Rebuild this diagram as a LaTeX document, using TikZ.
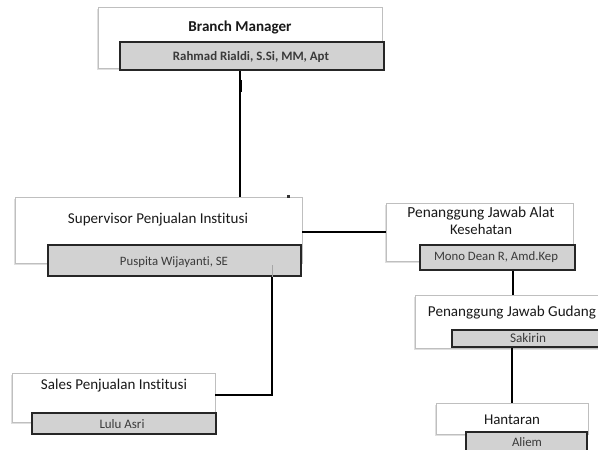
\documentclass[tikz,border=0pt]{standalone}
\usepackage{fontspec}
\setmainfont{Carlito}[Ligatures={NoCommon}]
\usetikzlibrary{shadows}
\definecolor{boxgray}{HTML}{D2D2D2}
\definecolor{txtgray}{HTML}{3A3A3A}
\newcommand{\fw}[2]{\resizebox{#1pt}{!}{#2}}
\tikzset{
  whitebox/.style={draw=black!25, line width=0.9pt, fill=white,
    drop shadow={shadow xshift=-1pt, shadow yshift=-1.5pt, opacity=0.25}},
  graybox/.style={draw=black!85, line width=1.2pt, fill=boxgray},
  ttltext/.style={text=black!90, inner sep=0pt},
  nmtext/.style={text=txtgray, inner sep=0pt},
  conn/.style={draw=black, line width=2pt}
}
\begin{document}
\begin{tikzpicture}[x=1pt,y=-1pt]
\clip (0,0) rectangle (598,450);
\fill[white] (0,0) rectangle (598,450);
% Branch Manager
\path[whitebox] (98,7) rectangle (382,68);
\path[graybox] (120,42) rectangle (384,70);
\node[ttltext] (bmt) at (240,27) {\fw{103}{\bfseries Branch Manager}};
\node[nmtext] (bmn) at (251,57) {\fw{156}{\bfseries Rahmad Rialdi, S.Si, MM, Apt}};
% Supervisor
\path[whitebox] (15,197) rectangle (302,263);
\path[graybox] (48,245) rectangle (301,276);
\node[ttltext] (supt) at (158,220) {\fw{180}{Supervisor Penjualan Institusi}};
\node[nmtext] (supn) at (174,262) {\fw{108}{Puspita Wijayanti, SE}};
% Alat Kesehatan
\path[whitebox] (386,203) rectangle (573,261);
\path[graybox] (420,245) rectangle (575,270);
\node[ttltext] (alt1) at (481,213) {\fw{147}{Penanggung Jawab Alat}};
\node[ttltext] (alt2) at (481,229) {\fw{62}{Kesehatan}};
\node[nmtext] (altn) at (496,257) {\fw{124}{Mono Dean R, Amd.Kep}};
% Gudang
\path[whitebox] (415,295) rectangle (606,348);
\path[graybox] (452,330) rectangle (606,347);
\node[ttltext] (gdt) at (512,313) {\fw{168}{Penanggung Jawab Gudang}};
\node[nmtext] (gdn) at (528,338) {\fw{36}{Sakirin}};
% Hantaran
\path[whitebox] (436,403) rectangle (588,434);
\path[graybox] (466,432) rectangle (587,456);
\node[ttltext] (hnt) at (512,420) {\fw{56}{Hantaran}};
\node[nmtext] (hnn) at (527,442) {\fw{30}{Aliem}};
% Sales
\path[whitebox] (12,373) rectangle (215,422);
\path[graybox] (32,413) rectangle (216,434);
\node[ttltext] (slt) at (114,386) {\fw{146}{Sales Penjualan Institusi}};
\node[nmtext] (sln) at (122,424) {\fw{45}{Lulu Asri}};
% connector coordinates
\coordinate (bmb) at (240,71);
\coordinate (supt0) at (240,197);
\coordinate (supr) at (302,232);
\coordinate (altl) at (386,232);
\coordinate (altb) at (513,271);
\coordinate (gdtop) at (513,295);
\coordinate (gdb) at (512,348);
\coordinate (hntop) at (512,403);
\coordinate (supb) at (272,277);
\coordinate (elbow) at (272,395);
\coordinate (slr) at (215,395);
\coordinate (thk1) at (240,80);
\coordinate (thk2) at (240,92);
% connectors
\draw[conn] (bmb) -- (supt0);
\draw[conn, line width=3pt] (thk1) -- (thk2);
\draw[conn] (supr) -- (altl);
\draw[conn] (altb) -- (gdtop);
\draw[conn] (gdb) -- (hntop);
\draw[conn] (supb) -- (elbow) -- (slr);
\draw[black!35, line width=0.8pt] (272,265) -- (supb);
\fill[black!80] (286.5,195) rectangle (289.5,197.5);
\end{tikzpicture}
\end{document}
